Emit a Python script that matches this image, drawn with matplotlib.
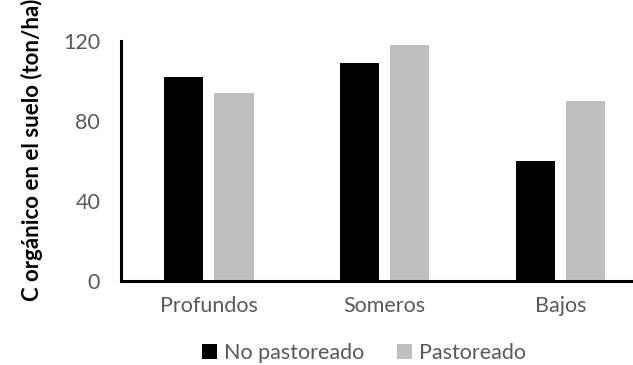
import matplotlib
matplotlib.use("Agg")
import matplotlib.pyplot as plt
from matplotlib.patches import Patch
import numpy as np

categories = ["Profundos", "Someros", "Bajos"]
no_pastoreado = [102, 109, 60]
pastoreado = [94, 118, 90]
series_names = ["No pastoreado", "Pastoreado"]
yticks = [0, 40, 80, 120]

W, H = 633, 365
fig = plt.figure(figsize=(W / 100, H / 100), dpi=100)
fig.patch.set_facecolor("white")

# axes extends a little past the right border of the canvas
left, bottom, top, right = 121, 281, 41, 648.5
ax = fig.add_axes([left / W, (H - bottom) / H, (right - left) / W, (bottom - top) / H])

x = np.arange(len(categories))
bw = 0.223
off = 0.143
ax.bar(x - off, no_pastoreado, bw, color="black", zorder=2)
ax.bar(x + off, pastoreado, bw, color="#bfbfbf", zorder=2)

ax.set_xlim(-0.5, len(categories) - 0.5)
ax.set_ylim(0, 120)
ax.set_yticks(yticks)
ax.set_xticks(x)
ax.set_xticklabels(categories)

font = "Lato"
for lab in ax.get_xticklabels() + ax.get_yticklabels():
    lab.set_fontfamily(font)
    lab.set_fontsize(15.5)
    lab.set_color("#595959")
ax.tick_params(axis="y", length=0, pad=15)
ax.tick_params(axis="x", length=0, pad=11)

for s in ["top", "right"]:
    ax.spines[s].set_visible(False)
for s in ["left", "bottom"]:
    ax.spines[s].set_linewidth(2.2)
    ax.spines[s].set_color("black")
    ax.spines[s].set_capstyle("projecting")

fig.text(32 / W, 1 - 150 / H, "C orgánico en el suelo (ton/ha)", rotation=90,
         ha="center", va="center", fontsize=16, fontweight="bold",
         fontfamily=font, color="black")

handles = [Patch(facecolor="black", edgecolor="none"),
           Patch(facecolor="#bfbfbf", edgecolor="none")]
leg = fig.legend(handles, series_names, loc="center", ncol=2,
                 bbox_to_anchor=(364 / W, 1 - 353 / H), frameon=False,
                 prop={"family": font, "size": 15.5},
                 handlelength=0.7, handleheight=0.7, handletextpad=0.35,
                 columnspacing=1.5, borderpad=0)
for t in leg.get_texts():
    t.set_color("#595959")

fig.savefig("out.png", dpi=100)
